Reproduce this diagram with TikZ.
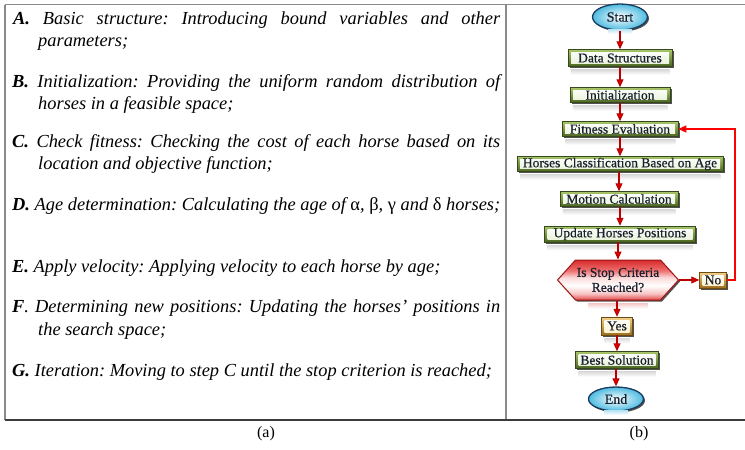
\documentclass[tikz,border=0pt]{standalone}
\usepackage{fontspec}
\setmainfont{Liberation Serif}
\newfontfamily\chartfont[FakeBold=0.6]{Liberation Serif}
\usetikzlibrary{arrows.meta,shadows,shapes.geometric,shapes.symbols}
\frenchspacing

% palette
\definecolor{ink}{HTML}{18202E}
\definecolor{rulegray}{HTML}{8A8A8A}
\definecolor{ruledark}{HTML}{3C3C3C}
\definecolor{gtop}{HTML}{A9C76A}
\definecolor{gbot}{HTML}{4A6421}
\definecolor{gline}{HTML}{36491A}
\definecolor{gin}{HTML}{E6F0D4}
\definecolor{otop}{HTML}{F3D48A}
\definecolor{obot}{HTML}{9E6D1E}
\definecolor{oline}{HTML}{6E4A14}
\definecolor{oin}{HTML}{FFF1C8}
\definecolor{bedge}{HTML}{4DBBE0}
\definecolor{bline}{HTML}{1B3A5C}
\definecolor{arrowred}{HTML}{B80000}
\definecolor{tipred}{HTML}{E00000}
\definecolor{backred}{HTML}{FF0000}
\definecolor{hexline}{HTML}{A01414}
\definecolor{hA}{HTML}{E04848}
\definecolor{hB}{HTML}{F7C4C4}
\definecolor{hC}{HTML}{FBDADA}
\definecolor{hD}{HTML}{EE6E6E}
\definecolor{hE}{HTML}{D62C2C}

% red band on top, white belly, red rim at the bottom
\pgfdeclareverticalshading{hexfill}{100bp}{color(0bp)=(hA); color(25bp)=(hA); color(33bp)=(hB); color(43bp)=(white); color(53bp)=(hC); color(62bp)=(hD); color(75bp)=(hE); color(100bp)=(hE)}

\tikzset{
  panelrule/.style={draw=rulegray, line width=1.1pt},
  ltext/.style={anchor=base west, inner sep=0pt, font=\fontsize{18.4}{22}\selectfont\itshape},
  captext/.style={inner sep=0pt, font=\fontsize{16}{16}\selectfont},
  shadowed/.style={drop shadow={shadow xshift=1.5pt, shadow yshift=-1.5pt, fill=black!80, opacity=0.85}},
  gbox/.style={shadowed, rectangle, inner sep=0pt, minimum height=15pt, text=ink,
    font=\chartfont\fontsize{13.5}{13.5}\selectfont, top color=gtop, bottom color=gbot, draw=gline, line width=0.5pt,
    path picture={\shade[top color=white, bottom color=gin]
      ([shift={(3pt,-3pt)}]path picture bounding box.north west) rectangle
      ([shift={(-3pt,3pt)}]path picture bounding box.south east);}},
  obox/.style={gbox, top color=otop, bottom color=obot, draw=oline,
    path picture={\shade[top color=white, bottom color=oin]
      ([shift={(3pt,-3pt)}]path picture bounding box.north west) rectangle
      ([shift={(-3pt,3pt)}]path picture bounding box.south east);}},
  terminal/.style={shadowed, ellipse, inner sep=0pt, minimum width=55pt, minimum height=26pt, text=ink,
    font=\chartfont\fontsize{14}{14}\selectfont, inner color=white, outer color=bedge, draw=bline, line width=1.3pt},
  decision/.style={shadowed, signal, signal to=east and west, signal pointer angle=96,
    inner xsep=1pt, inner ysep=0pt, minimum width=121pt, minimum height=40pt, align=center, text=ink,
    font=\chartfont\fontsize{13.5}{15}\selectfont, shading=hexfill, draw=hexline, line width=1pt},
  flowarrow/.style={draw=arrowred, line width=1.1pt, -{Triangle[length=8pt,width=7pt,fill=tipred]}},
  backline/.style={draw=backred, line width=1.1pt, -{Triangle[length=8pt,width=7pt,fill=tipred]}},
  glow/.style={top color=black!14, bottom color=white, draw=none}
}

\begin{document}
\begin{tikzpicture}[x=1pt, y=-1pt]
\useasboundingbox (0,0) rectangle (745,450);

% table frame
\draw[panelrule] (5,4.5) -- (745,4.5);
\draw[panelrule] (5,4.5) -- (5,420);
\draw[panelrule] (506,4.5) -- (506,420);
\draw[draw=ruledark, line width=1.3pt] (4.5,420) -- (745,420);

% left column: list of steps
\node[ltext] (ta1) at (13,24) {\makebox[487pt][s]{\textbf{A.} Basic structure: Introducing bound variables and other}};
\node[ltext] (ta2) at (38,46) {parameters;};
\node[ltext] (tb1) at (12,87) {\makebox[488pt][s]{\textbf{B.} Initialization: Providing the uniform random distribution of}};
\node[ltext] (tb2) at (38,109) {horses in a feasible space;};
\node[ltext] (tc1) at (12,147) {\makebox[488pt][s]{\textbf{C.} Check fitness: Checking the cost of each horse based on its}};
\node[ltext] (tc2) at (38,169) {location and objective function;};
\node[ltext] (td) at (12,210) {\textbf{D.} Age determination: Calculating the age of {\upshape α}, {\upshape β}, {\upshape γ} and {\upshape δ} horses;};
\node[ltext] (te) at (12,272) {\textbf{E.} Apply velocity: Applying velocity to each horse by age;};
\node[ltext] (tf1) at (12,312) {\makebox[488pt][s]{\textbf{F}. Determining new positions: Updating the horses’ positions in}};
\node[ltext] (tf2) at (38,335) {the search space;};
\node[ltext] (tg) at (12,376) {\textbf{G.} Iteration: Moving to step C until the stop criterion is reached;};

% right column: flowchart
\node[terminal] (start) at (620,17) {Start};
\node[gbox, minimum width=104pt, minimum height=17pt] (ds) at (620,58) {Data Structures};
\node[gbox, minimum width=100pt] (init) at (620,95) {Initialization};
\node[gbox, minimum width=116pt] (fit) at (620,129) {Fitness Evaluation};
\node[gbox, minimum width=206pt] (cls) at (620,164) {Horses Classification Based on Age};
\node[gbox, minimum width=118pt] (mot) at (619,199) {Motion Calculation};
\node[gbox, minimum width=151pt, minimum height=16pt] (upd) at (620,234) {Update Horses Positions};
\node[decision] (hex) at (618,280) {Is Stop Criteria\\Reached?};
\node[obox, minimum width=27pt, minimum height=16pt] (no) at (713,280) {No};
\node[obox, minimum width=31pt, minimum height=18pt] (yes) at (617,326) {Yes};
\node[gbox, minimum width=83pt, minimum height=17pt] (best) at (617,360) {Best Solution};
\node[terminal, minimum height=24pt] (end) at (616,399) {End};

% soft reflections under the shapes
\foreach \n in {ds,init,fit,cls,mot,upd,yes,best}
  \shade[glow] ([shift={(3pt,-3pt)}]\n.south west) rectangle ([shift={(-3pt,-8pt)}]\n.south east);
\foreach \n in {start,end}
  \shade[top color=bedge!35, bottom color=white, draw=none] ([shift={(8pt,-3pt)}]\n.south west) rectangle ([shift={(-8pt,-7pt)}]\n.south east);
\shade[top color=hE!25, bottom color=white, draw=none] ([shift={(-30pt,-3pt)}]hex.south) rectangle ([shift={(30pt,-8pt)}]hex.south);

% connectors
\foreach \a/\b in {start/ds, ds/init, init/fit, fit/cls, cls/mot, mot/upd, upd/hex, hex/yes, yes/best, best/end}
  \draw[flowarrow] (\b.north |- \a.south) -- (\b.north);
\draw[flowarrow] (hex.east) -- (no.west);
\coordinate (turn) at (735,129);
\draw[backline] (no.east) -| (turn) -- (fit.east);

% captions
\node[captext] (capa) at (266,434) {(a)};
\node[captext] (capb) at (639,434) {(b)};
\end{tikzpicture}
\end{document}
